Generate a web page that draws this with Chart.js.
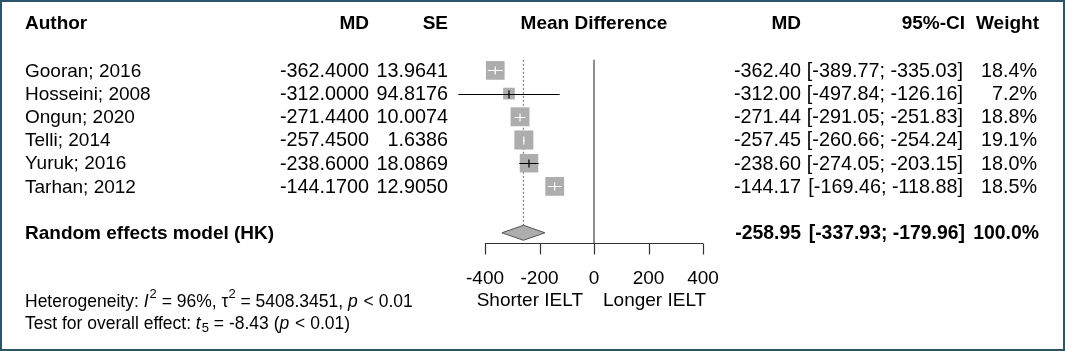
<!DOCTYPE html>
<html>
<head>
<meta charset="utf-8">
<script src="https://cdn.jsdelivr.net/npm/chart.js@4/dist/chart.umd.min.js"></script>
<style>
  html, body { margin: 0; padding: 0; background: #fff; }
  canvas { display: block; }
</style>
</head>
<body>
<canvas id="forest" width="1065" height="351"></canvas>
<script>
// ===== Data =====
const authors = ['Gooran; 2016', 'Hosseini; 2008', 'Ongun; 2020', 'Telli; 2014', 'Yuruk; 2016', 'Tarhan; 2012'];
const md = [-362.40, -312.00, -271.44, -257.45, -238.60, -144.17];
const se = [13.9641, 94.8176, 10.0074, 1.6386, 18.0869, 12.9050];
const ciLow = [-389.77, -497.84, -291.05, -260.66, -274.05, -169.46];
const ciHigh = [-335.03, -126.16, -251.83, -254.24, -203.15, -118.88];
const weights = [18.4, 7.2, 18.8, 19.1, 18.0, 18.5];

const pooledLabel = 'Random effects model (HK)';
const pooledMD = -258.95;
const pooledLow = -337.93;
const pooledHigh = -179.96;
const pooledWeight = 100.0;

const xTicks = [-400, -200, 0, 200, 400];
const xLabelLeft = 'Shorter IELT';
const xLabelRight = 'Longer IELT';

// row positions (1..6 studies, 8 = pooled, -1 = header)
const studyRows = authors.map((a, i) => i + 1);
const pooledRow = 8;
const headerRow = -1;

const FONT = '"Liberation Sans", Arial, Helvetica, sans-serif';
const BOX_GREY = '#adadad';
const boxSide = w => 4.36 * Math.sqrt(w);

// ===== Plugin: reference lines behind boxes =====
const refLines = {
    id: 'refLines',
    beforeDatasetsDraw(chart) {
        const { ctx, scales: { x, y } } = chart;
        ctx.save();
        // line of no effect
        ctx.strokeStyle = '#666';
        ctx.lineWidth = 1.5;
        ctx.beginPath();
        ctx.moveTo(x.getPixelForValue(0), y.getPixelForValue(0.5) + 1);
        ctx.lineTo(x.getPixelForValue(0), chart.chartArea.bottom);
        ctx.stroke();
        // pooled estimate, dotted
        ctx.strokeStyle = '#888';
        ctx.lineWidth = 1.3;
        ctx.setLineDash([2, 2]);
        ctx.beginPath();
        ctx.moveTo(x.getPixelForValue(pooledMD), y.getPixelForValue(0.5) + 1);
        ctx.lineTo(x.getPixelForValue(pooledMD), y.getPixelForValue(pooledRow) - 7);
        ctx.stroke();
        ctx.restore();
    }
};

// ===== Plugin: CI lines, diamond, axis, text =====
const forestDecor = {
    id: 'forestDecor',
    beforeDraw(chart) {
        const { ctx, width, height } = chart;
        ctx.save();
        ctx.fillStyle = '#fff';
        ctx.fillRect(0, 0, width, height);
        ctx.strokeStyle = '#2d5568';
        ctx.lineWidth = 2;
        ctx.strokeRect(1, 1, width - 2, height - 2);
        ctx.restore();
    },
    afterDatasetsDraw(chart) {
        const { ctx, scales: { x, y } } = chart;
        ctx.save();

        // CI lines
        md.forEach((m, i) => {
            const py = Math.round(y.getPixelForValue(studyRows[i])) + 0.5;
            const pm = x.getPixelForValue(m);
            const pl = x.getPixelForValue(ciLow[i]);
            const ph = x.getPixelForValue(ciHigh[i]);
            const half = boxSide(weights[i]) / 2;
            const inside = (pm - pl) <= half && (ph - pm) <= half;
            ctx.strokeStyle = inside ? '#fff' : '#000';
            ctx.lineWidth = 1.2;
            ctx.beginPath();
            ctx.moveTo(pl, py);
            ctx.lineTo(ph, py);
            ctx.moveTo(pm, py - 4);
            ctx.lineTo(pm, py + 4);
            ctx.stroke();
        });

        // diamond
        const dy = y.getPixelForValue(pooledRow);
        ctx.fillStyle = BOX_GREY;
        ctx.strokeStyle = '#555';
        ctx.lineWidth = 1;
        ctx.beginPath();
        ctx.moveTo(x.getPixelForValue(pooledLow), dy);
        ctx.lineTo(x.getPixelForValue(pooledMD), dy - 7.5);
        ctx.lineTo(x.getPixelForValue(pooledHigh), dy);
        ctx.lineTo(x.getPixelForValue(pooledMD), dy + 7.5);
        ctx.closePath();
        ctx.fill();
        ctx.stroke();

        // x axis
        const ay = Math.round(chart.chartArea.bottom) + 0.5;
        ctx.strokeStyle = '#333';
        ctx.lineWidth = 1.2;
        ctx.beginPath();
        ctx.moveTo(x.getPixelForValue(xTicks[0]), ay);
        ctx.lineTo(x.getPixelForValue(xTicks[xTicks.length - 1]), ay);
        xTicks.forEach(t => {
            const px = Math.round(x.getPixelForValue(t)) + 0.5;
            ctx.moveTo(px, ay);
            ctx.lineTo(px, ay + 11);
        });
        ctx.stroke();

        ctx.fillStyle = '#000';
        ctx.textBaseline = 'middle';
        ctx.font = `19px ${FONT}`;
        ctx.textAlign = 'center';
        xTicks.forEach(t => ctx.fillText(String(t), x.getPixelForValue(t), ay + 35));
        const zx = x.getPixelForValue(0);
        ctx.textAlign = 'right';
        ctx.fillText(xLabelLeft, zx - 11, ay + 57);
        ctx.textAlign = 'left';
        ctx.fillText(xLabelRight, zx + 9, ay + 57);

        // ===== table text =====
        const col = { author: 25, md: 369, se: 448, md2: 801, ci: 963, w: 1037 };
        const hy = y.getPixelForValue(headerRow);
        ctx.font = `bold 19px ${FONT}`;
        ctx.textAlign = 'left';
        ctx.fillText('Author', col.author, hy);
        ctx.textAlign = 'right';
        ctx.fillText('MD', col.md, hy);
        ctx.fillText('SE', col.se, hy);
        ctx.fillText('MD', col.md2, hy);
        ctx.fillText('95%-CI', col.ci + 2, hy);
        ctx.fillText('Weight', col.w + 2, hy);
        ctx.textAlign = 'center';
        ctx.fillText('Mean Difference', zx, hy);

        authors.forEach((a, i) => {
            const ry = y.getPixelForValue(studyRows[i]) + 1;
            ctx.font = `19px ${FONT}`;
            ctx.textAlign = 'left';
            ctx.fillText(a, col.author, ry);
            ctx.font = `19.8px ${FONT}`;
            ctx.textAlign = 'right';
            ctx.fillText(md[i].toFixed(4), col.md, ry);
            ctx.fillText(se[i].toFixed(4), col.se, ry);
            ctx.fillText(md[i].toFixed(2), col.md2, ry);
            ctx.fillText(`[${ciLow[i].toFixed(2)}; ${ciHigh[i].toFixed(2)}]`, col.ci, ry);
            ctx.fillText(weights[i].toFixed(1) + '%', col.w, ry);
        });

        const py = y.getPixelForValue(pooledRow) + 1;
        ctx.font = `bold 19px ${FONT}`;
        ctx.textAlign = 'left';
        ctx.fillText(pooledLabel, col.author, py);
        ctx.font = `bold 19.4px ${FONT}`;
        ctx.textAlign = 'right';
        ctx.fillText(pooledMD.toFixed(2), col.md2, py);
        ctx.fillText(`[${pooledLow.toFixed(2)}; ${pooledHigh.toFixed(2)}]`, col.ci + 2, py);
        ctx.fillText(pooledWeight.toFixed(1) + '%', col.w + 2, py);

        // heterogeneity lines
        drawRich(ctx, 25, 302, [
            { t: 'Heterogeneity: ' }, { t: 'I', it: true }, { t: '2', sup: true },
            { t: ' = 96%, ' }, { t: 'τ' }, { t: '2', sup: true },
            { t: ' = 5408.3451, ' }, { t: 'p', it: true }, { t: ' < 0.01' }
        ]);
        drawRich(ctx, 25, 324, [
            { t: 'Test for overall effect: ' }, { t: 't', it: true }, { t: '5', sub: true },
            { t: ' = -8.43 (' }, { t: 'p', it: true }, { t: ' < 0.01)' }
        ]);

        ctx.restore();
    }
};

function drawRich(ctx, x0, y0, parts) {
    let cx = x0;
    ctx.textAlign = 'left';
    ctx.textBaseline = 'middle';
    parts.forEach(p => {
        let size = 17.5, off = 0;
        if (p.sup) { size = 13; off = -8; }
        if (p.sub) { size = 13; off = 4; }
        ctx.font = `${p.it ? 'italic ' : ''}${size}px ${FONT}`;
        ctx.fillText(p.t, cx, y0 + off);
        cx += ctx.measureText(p.t).width + (p.it ? 1 : 0);
    });
}

// ===== Chart =====
new Chart(document.getElementById('forest'), {
    type: 'scatter',
    data: {
        datasets: [{
            data: md.map((m, i) => ({ x: m, y: studyRows[i] })),
            pointStyle: 'rect',
            pointRadius: weights.map(w => boxSide(w) / Math.SQRT2),
            backgroundColor: BOX_GREY,
            borderWidth: 0
        }]
    },
    options: {
        responsive: false,
        animation: false,
        events: [],
        layout: { padding: { top: 24, bottom: 108, left: 485, right: 362 } },
        scales: {
            x: { type: 'linear', min: -400, max: 400, display: false },
            y: { type: 'linear', min: -1, max: 8.44, reverse: true, display: false }
        },
        plugins: { legend: { display: false }, tooltip: { enabled: false } }
    },
    plugins: [refLines, forestDecor]
});
</script>
</body>
</html>
